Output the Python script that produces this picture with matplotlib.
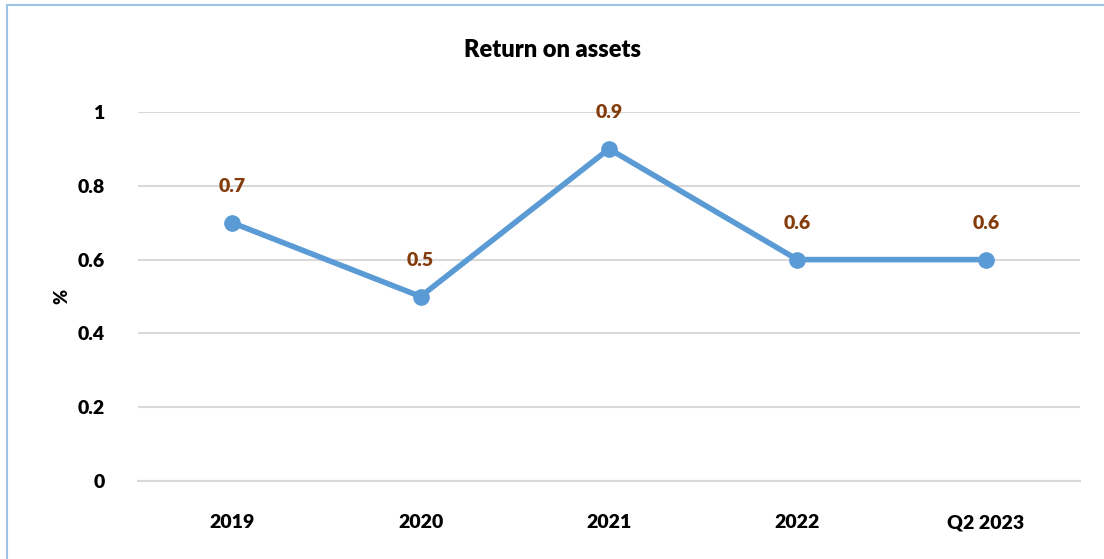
import matplotlib.pyplot as plt
from matplotlib.lines import Line2D

categories = ['2019', '2020', '2021', '2022', 'Q2 2023']
roa = [0.7, 0.5, 0.9, 0.6, 0.6]
yticks = [0, 0.2, 0.4, 0.6, 0.8, 1]
ytick_labels = ['0', '0.2', '0.4', '0.6', '0.8', '1']

plt.rcParams['font.family'] = ['Lato', 'DejaVu Sans']
W = 'heavy'

fig = plt.figure(figsize=(11.04, 5.59), dpi=100)
ax = fig.add_axes([138 / 1104, 1 - 481 / 559, 942 / 1104, 369 / 559])

x = list(range(len(categories)))
ax.plot(x, roa, color='#5B9BD5', lw=4, marker='o', ms=11, zorder=3,
        solid_capstyle='round')
for xi, v in zip(x, roa):
    ax.annotate(f'{v:g}', (xi, v), xytext=(0, 20), textcoords='offset points',
                ha='center', va='bottom', color='#843C0C', fontsize=14,
                fontweight=W, annotation_clip=False)

ax.set_xlim(-0.5, len(categories) - 0.5)
ax.set_ylim(0, 1)
ax.set_yticks(yticks)
ax.set_yticklabels(ytick_labels)
ax.set_xticks(x)
ax.set_xticklabels(categories)
ax.grid(axis='y', color='#D9D9D9', lw=1.5)
ax.set_axisbelow(True)
for s in ['top', 'right', 'left']:
    ax.spines[s].set_visible(False)
ax.spines['bottom'].set_color('#D9D9D9')
ax.spines['bottom'].set_linewidth(1.5)
ax.tick_params(axis='both', length=0, labelsize=14)
ax.tick_params(axis='y', pad=24)
ax.tick_params(axis='x', pad=24)
for lab in ax.get_xticklabels() + ax.get_yticklabels():
    lab.set_fontweight(W)

ax.set_ylabel('%', fontsize=13, fontweight=W, labelpad=5)
fig.text(0.5, 1 - 50 / 559, 'Return on assets', ha='center', va='center',
         fontsize=17, fontweight=W)

# light blue border on left and top
fig.add_artist(Line2D([7 / 1104, 7 / 1104], [0, 1 - 5 / 559], color='#9DC3E6', lw=1.5))
fig.add_artist(Line2D([7 / 1104, 1], [1 - 5 / 559, 1 - 5 / 559], color='#9DC3E6', lw=1.5))

fig.savefig('out.png', dpi=100)
